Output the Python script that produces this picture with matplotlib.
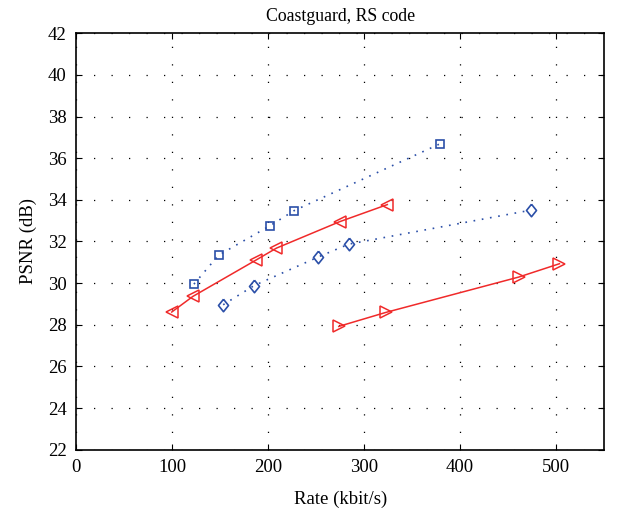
import matplotlib
matplotlib.use("Agg")
import matplotlib.pyplot as plt

plt.rcParams['font.family'] = ['Liberation Serif', 'DejaVu Serif']

# Rate (kbit/s) and PSNR (dB) for each curve
sq_rate = [122.6, 148.3, 201.7, 227.0, 378.6]
sq_psnr = [29.95, 31.34, 32.75, 33.48, 36.68]

lt_rate = [99.5, 121.5, 187.8, 208.6, 274.5, 324.1]
lt_psnr = [28.61, 29.36, 31.12, 31.68, 32.95, 33.77]

dm_rate = [153.1, 185.3, 251.9, 283.9, 473.3]
dm_psnr = [28.96, 29.88, 31.25, 31.87, 33.50]

rt_rate = [273.5, 322.4, 461.0, 503.4]
rt_psnr = [27.92, 28.59, 30.29, 30.93]

x_ticks = [0, 100, 200, 300, 400, 500]
y_ticks = list(range(22, 43, 2))

blue = '#2b4fa8'
red = '#f02a2a'

# slightly tall diamond outline
diamond = [(0, 1), (0.8, 0), (0, -1), (-0.8, 0), (0, 1)]

fig = plt.figure(figsize=(6.3, 5.11), dpi=100)
ax = fig.add_axes([0.121, 0.120, 0.838, 0.815])

ax.plot(sq_rate, sq_psnr, linestyle=(0, (1, 4)), color=blue, lw=1.2,
        marker='s', ms=5.6, mfc='none', mec=blue, mew=1.2)
ax.plot(dm_rate, dm_psnr, linestyle=(0, (1, 4)), color=blue, lw=1.2,
        marker=diamond, ms=9, mfc='none', mec=blue, mew=1.2)
ax.plot(lt_rate, lt_psnr, linestyle='-', color=red, lw=1.1,
        marker='<', ms=9, mfc='none', mec=red, mew=1.1)
ax.plot(rt_rate, rt_psnr, linestyle='-', color=red, lw=1.1,
        marker='>', ms=9, mfc='none', mec=red, mew=1.1)

ax.set_xlim(0, 550)
ax.set_ylim(22, 42)
ax.set_xticks(x_ticks)
ax.set_yticks(y_ticks)
ax.grid(True, color='black', linestyle=(0, (1, 13)), linewidth=0.9)
ax.tick_params(direction='in', length=4, width=0.8, labelsize=13.5,
               top=True, right=True, pad=7)
for s in ax.spines.values():
    s.set_linewidth(1.2)

ax.set_title('Coastguard, RS code', fontsize=12.8, pad=9)
ax.set_xlabel('Rate (kbit/s)', fontsize=13.5, labelpad=10)
ax.set_ylabel('PSNR (dB)', fontsize=13.5, labelpad=8)

fig.savefig('out.png', dpi=100)
